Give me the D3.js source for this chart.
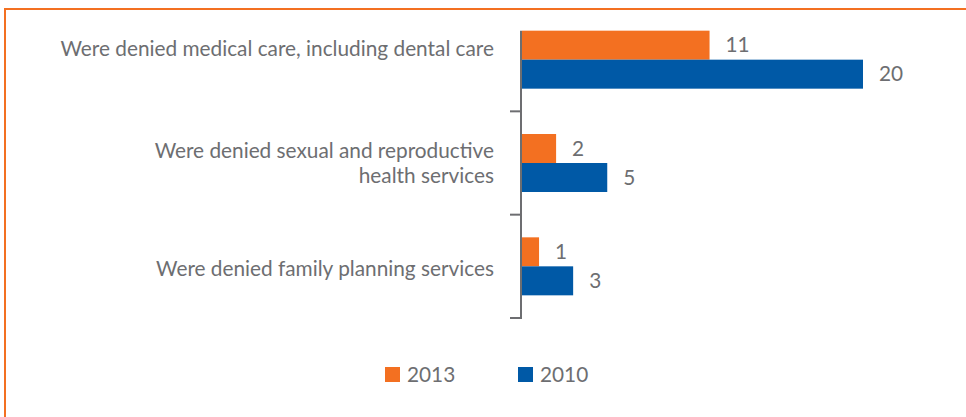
<!DOCTYPE html>
<html>
<head>
<meta charset="utf-8">
<script src="https://cdn.jsdelivr.net/npm/d3@7"></script>
<style>
  html, body { margin: 0; padding: 0; background: #fff; }
  svg { display: block; }
  text { font-family: "Lato", "Open Sans", sans-serif; fill: #6d6e71; }
</style>
</head>
<body>
<svg id="chart" width="966" height="417"></svg>
<script>
// Share of respondents denied services, by year
const categories = [
  "Were denied medical care, including dental care",
  "Were denied sexual and reproductive health services",
  "Were denied family planning services"
];
const categoryLines = [
  ["Were denied medical care, including dental care"],
  ["Were denied sexual and reproductive", "health services"],
  ["Were denied family planning services"]
];
const seriesNames = ["2013", "2010"];
const values2013 = [11, 2, 1];
const values2010 = [20, 5, 3];
const xDomainMax = 20;

const colors = { "2013": "#f37021", "2010": "#0059a6" };
const axisColor = "#6d6e71";
const fontSize = 20.8;

const svg = d3.select("#chart");

// Frame: orange rule along top and left edges
svg.append("line").attr("x1", 4).attr("x2", 966).attr("y1", 9).attr("y2", 9)
  .attr("stroke", "#f37021").attr("stroke-width", 2);
svg.append("line").attr("x1", 5).attr("x2", 5).attr("y1", 8).attr("y2", 417)
  .attr("stroke", "#f37021").attr("stroke-width", 2);

const x = d3.scaleLinear().domain([0, xDomainMax]).range([522, 863]);
const y = d3.scaleBand().domain(categories).range([8, 318]).padding(0);
const groupH = 58;
const ySub = d3.scaleBand().domain(seriesNames).range([0, groupH]).padding(0);
const groupOffset = (y.bandwidth() - groupH) / 2;

const rows = categories.map((c, i) => ({
  cat: c,
  lines: categoryLines[i],
  vals: [
    { key: "2013", v: values2013[i] },
    { key: "2010", v: values2010[i] }
  ]
}));

// Bars
const g = svg.append("g");
const groups = g.selectAll("g.grp").data(rows).join("g")
  .attr("class", "grp")
  .attr("transform", d => `translate(0,${y(d.cat) + groupOffset})`);

groups.selectAll("rect").data(d => d.vals).join("rect")
  .attr("x", x(0))
  .attr("y", d => ySub(d.key))
  .attr("width", d => x(d.v) - x(0))
  .attr("height", ySub.bandwidth())
  .attr("fill", d => colors[d.key]);

// Value labels
groups.selectAll("text.val").data(d => d.vals).join("text")
  .attr("class", "val")
  .attr("x", d => x(d.v) + 16)
  .attr("y", d => ySub(d.key) + ySub.bandwidth() / 2)
  .attr("dy", "0.35em")
  .attr("font-size", fontSize)
  .text(d => d.v);

// Category axis: vertical line with ticks at band boundaries
const axisX = x(0) - 1;
const axisTop = y(categories[0]) + groupOffset;
const axisBottom = y.range()[1];
svg.append("line")
  .attr("x1", axisX).attr("x2", axisX)
  .attr("y1", axisTop).attr("y2", axisBottom + 1)
  .attr("stroke", axisColor).attr("stroke-width", 2);
svg.selectAll("line.tick").data(categories).join("line")
  .attr("class", "tick")
  .attr("x1", axisX - 11).attr("x2", axisX)
  .attr("y1", d => y(d) + y.bandwidth())
  .attr("y2", d => y(d) + y.bandwidth())
  .attr("stroke", axisColor).attr("stroke-width", 2);

// Category labels, right-aligned left of the axis
const labelShift = [-11, 0, 2];
const lineH = 25;
const labels = svg.selectAll("text.cat").data(rows).join("text")
  .attr("class", "cat")
  .attr("text-anchor", "end")
  .attr("font-size", fontSize)
  .attr("transform", (d, i) => {
    const cy = y(d.cat) + y.bandwidth() / 2 + labelShift[i];
    const top = cy - (d.lines.length - 1) * lineH / 2;
    return `translate(494,${top})`;
  });
labels.selectAll("tspan").data(d => d.lines).join("tspan")
  .attr("x", 0)
  .attr("y", (d, j) => j * lineH)
  .attr("dy", "0.35em")
  .text(d => d);

// Legend
const legend = svg.append("g").attr("transform", "translate(385,367)");
const legendX = d3.scaleOrdinal().domain(seriesNames).range([0, 133]);
const items = legend.selectAll("g").data(seriesNames).join("g")
  .attr("transform", d => `translate(${legendX(d)},0)`);
items.append("rect").attr("width", 15).attr("height", 15).attr("fill", d => colors[d]);
items.append("text").attr("x", 22).attr("y", 8).attr("dy", "0.35em")
  .attr("font-size", fontSize).text(d => d);
</script>
</body>
</html>
